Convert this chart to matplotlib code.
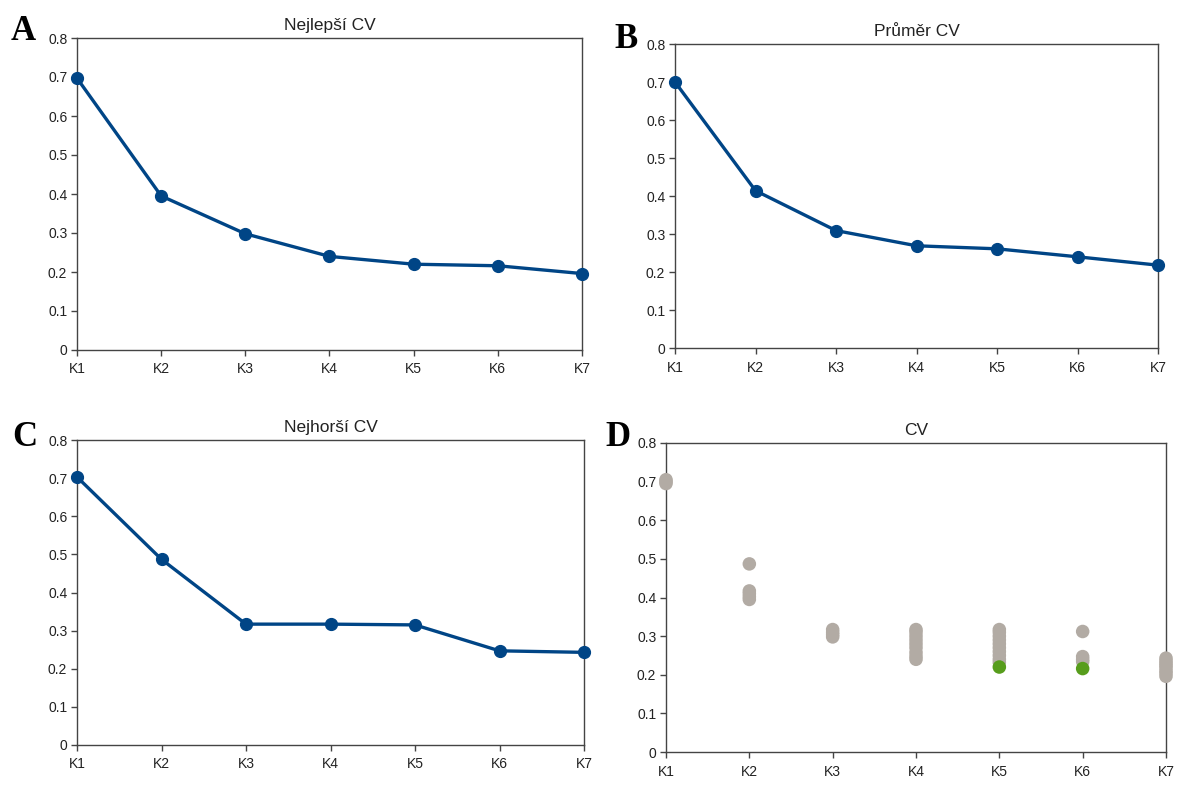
import matplotlib
matplotlib.use("Agg")
import matplotlib.pyplot as plt

plt.rcParams['font.family'] = ['Liberation Sans', 'DejaVu Sans']

categories = ["K1", "K2", "K3", "K4", "K5", "K6", "K7"]
yticks = [0, 0.1, 0.2, 0.3, 0.4, 0.5, 0.6, 0.7, 0.8]
ytick_labels = ["0", "0.1", "0.2", "0.3", "0.4", "0.5", "0.6", "0.7", "0.8"]

best_cv = [0.697, 0.395, 0.298, 0.240, 0.220, 0.216, 0.196]
mean_cv = [0.700, 0.414, 0.309, 0.269, 0.261, 0.240, 0.218]
worst_cv = [0.703, 0.487, 0.317, 0.317, 0.315, 0.247, 0.243]

# Panel D: all CV values per category
all_cv_k1 = [0.705, 0.700, 0.695]
all_cv_k2 = [0.487, 0.417, 0.410, 0.402, 0.395]
all_cv_k3 = [0.317, 0.310, 0.304, 0.298]
all_cv_k4 = [0.317, 0.310, 0.300, 0.290, 0.280, 0.270, 0.258, 0.248, 0.240]
all_cv_k5 = [0.317, 0.310, 0.300, 0.290, 0.280, 0.270, 0.260, 0.250, 0.240, 0.232]
all_cv_k6 = [0.312, 0.247, 0.240, 0.234]
all_cv_k7 = [0.243, 0.236, 0.230, 0.224, 0.218, 0.210, 0.204, 0.196]
all_cv = [all_cv_k1, all_cv_k2, all_cv_k3, all_cv_k4, all_cv_k5, all_cv_k6, all_cv_k7]
# highlighted (green) points: category index and value
best_idx = [4, 5]
best_val = [0.220, 0.216]

BLUE = "#004586"
GRAY = "#b2aba4"
GREEN = "#579d1c"
SPINE = "#444444"

W, H = 1177, 796
fig = plt.figure(figsize=(W / 100, H / 100), dpi=100)

def frac(left, right, top, bottom):
    return [left / W, 1 - bottom / H, (right - left) / W, (bottom - top) / H]

def style(ax, title):
    ax.set_xlim(0, len(categories) - 1)
    ax.set_ylim(0, 0.8)
    ax.set_yticks(yticks)
    ax.set_yticklabels(ytick_labels)
    ax.set_xticks(range(len(categories)))
    ax.set_xticklabels(categories)
    for s in ax.spines.values():
        s.set_color(SPINE)
        s.set_linewidth(1.0)
    ax.tick_params(axis='both', direction='out', length=4, width=1.0,
                   color=SPINE, labelsize=10, labelcolor="#222222", pad=3)
    ax.tick_params(axis='x', pad=5)
    ax.set_title(title, fontsize=12.5, color="#222222", pad=6)

axA = fig.add_axes(frac(77, 582, 38, 350))
axB = fig.add_axes(frac(675, 1158, 44, 348))
axC = fig.add_axes(frac(77, 584, 440, 745))
axD = fig.add_axes(frac(666, 1166, 443, 752))

x = list(range(len(categories)))
for ax, data, title in [(axA, best_cv, "Nejlepší CV"),
                        (axB, mean_cv, "Průměr CV"),
                        (axC, worst_cv, "Nejhorší CV")]:
    style(ax, title)
    ax.plot(x, data, color=BLUE, linewidth=2.4, marker='o', markersize=8.5,
            clip_on=False, zorder=3)

style(axD, "CV")
for i, vals in enumerate(all_cv):
    axD.scatter([i] * len(vals), vals, s=95, color=GRAY, edgecolors='none',
                clip_on=False, zorder=3)
axD.scatter(best_idx, best_val, s=95, color=GREEN, edgecolors='none',
            clip_on=False, zorder=4)

letter_kw = dict(fontsize=25, fontweight='bold', family=['Liberation Serif', 'DejaVu Serif'],
                 color="black", va='center', ha='center')
fig.text(23 / W, 1 - 32 / H, "A", **letter_kw)
fig.text(626 / W, 1 - 40 / H, "B", **letter_kw)
fig.text(25 / W, 1 - 437 / H, "C", **letter_kw)
fig.text(618 / W, 1 - 437 / H, "D", **letter_kw)

fig.savefig("out.png", dpi=100, facecolor="white")
